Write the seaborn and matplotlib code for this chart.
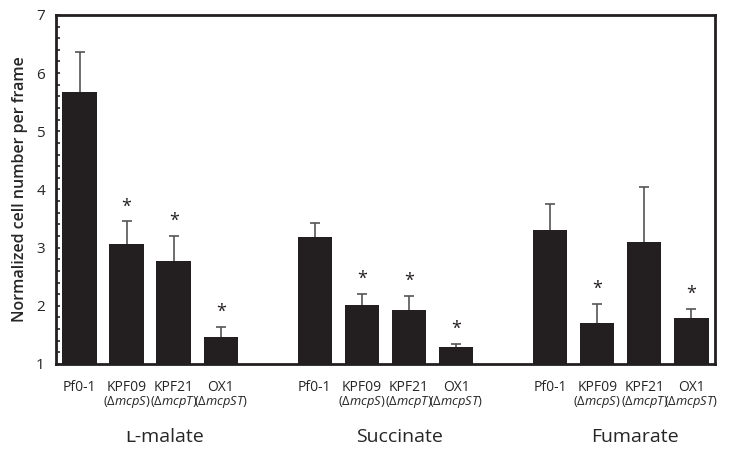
import numpy as np
import pandas as pd
import matplotlib
matplotlib.use("Agg")
import matplotlib.pyplot as plt
import matplotlib.transforms as mtransforms
from matplotlib.ticker import MultipleLocator
import seaborn as sns

# data
strains = ["Pf0-1", "KPF09", "KPF21", "OX1"]
genotypes = ["", r"($\Delta\mathit{mcpS}$)", r"($\Delta\mathit{mcpT}$)", r"($\Delta\mathit{mcpST}$)"]
substrates = ["ʟ-malate", "Succinate", "Fumarate"]

malate = [5.67, 3.07, 2.77, 1.46]
malate_err = [0.69, 0.38, 0.43, 0.18]
succinate = [3.18, 2.01, 1.93, 1.30]
succinate_err = [0.25, 0.20, 0.24, 0.05]
fumarate = [3.30, 1.71, 3.10, 1.79]
fumarate_err = [0.45, 0.32, 0.95, 0.16]
signif = [False, True, True, True,
          False, True, True, True,
          False, True, False, True]

sns.set_style("white")
plt.rcParams['font.family'] = ['Open Sans', 'DejaVu Sans']
plt.rcParams['mathtext.fontset'] = 'custom'
plt.rcParams['mathtext.rm'] = 'Open Sans'
plt.rcParams['mathtext.it'] = 'Open Sans:italic'

pos = []
for g in range(3):
    pos += [g * 5 + i for i in range(4)]
df = pd.DataFrame({
    "pos": pos,
    "value": malate + succinate + fumarate,
    "err": malate_err + succinate_err + fumarate_err,
    "strain": strains * 3,
    "geno": genotypes * 3,
    "sig": signif,
})

fig = plt.figure(figsize=(7.37, 4.53), dpi=100)
ax = fig.add_axes([0.076, 0.1965, 0.894, 0.7705])

sns.barplot(data=df, x="pos", y="value", native_scale=True, width=0.73,
            color="#231f20", saturation=1, errorbar=None, ax=ax,
            edgecolor="#231f20", linewidth=0)
for p in ax.patches:
    p.set_zorder(3)
eb = ax.errorbar(df["pos"], df["value"], yerr=[np.zeros(len(df)), df["err"]],
                 fmt="none", ecolor="#555555", elinewidth=1.2, capsize=3.5, capthick=1.2)
caps = eb.lines[1]
caps[0].set_visible(False)  # lower caps sit on the bar tops
for art in list(caps) + list(eb.lines[2]):
    art.set_zorder(1)

for _, r in df.iterrows():
    if r["sig"]:
        ax.text(r["pos"], r["value"] + r["err"] + 0.1, "*", ha="center", va="bottom",
                fontsize=13, color="#231f20")

ax.set_xlim(-0.5, 13.5)
ax.set_ylim(1, 7)
ax.yaxis.set_major_locator(MultipleLocator(1))
ax.yaxis.set_minor_locator(MultipleLocator(0.2))
ax.tick_params(axis="y", which="both", direction="in", length=3, width=1.2,
               left=True, labelsize=11, pad=8)
ax.tick_params(axis="x", bottom=False, labelsize=10, pad=8)
ax.set_xticks(df["pos"])
ax.set_xticklabels(df["strain"])
ax.set_xlabel("")
ax.set_ylabel("Normalized cell number per frame", fontsize=11.5, fontweight="semibold",
              labelpad=6)
for s in ax.spines.values():
    s.set_visible(True)
    s.set_linewidth(2)
    s.set_color("#231f20")
    s.set_zorder(4)

trans = mtransforms.blended_transform_factory(ax.transData, ax.transAxes)
for _, r in df.iterrows():
    if r["geno"]:
        ax.text(r["pos"], -0.108, r["geno"], transform=trans, ha="center", va="center",
                fontsize=9.3)
for g, name in enumerate(substrates):
    ax.text(g * 5 + 1.8, -0.21, name, transform=trans, ha="center", va="center",
            fontsize=14)

fig.savefig("out.png", dpi=100)
